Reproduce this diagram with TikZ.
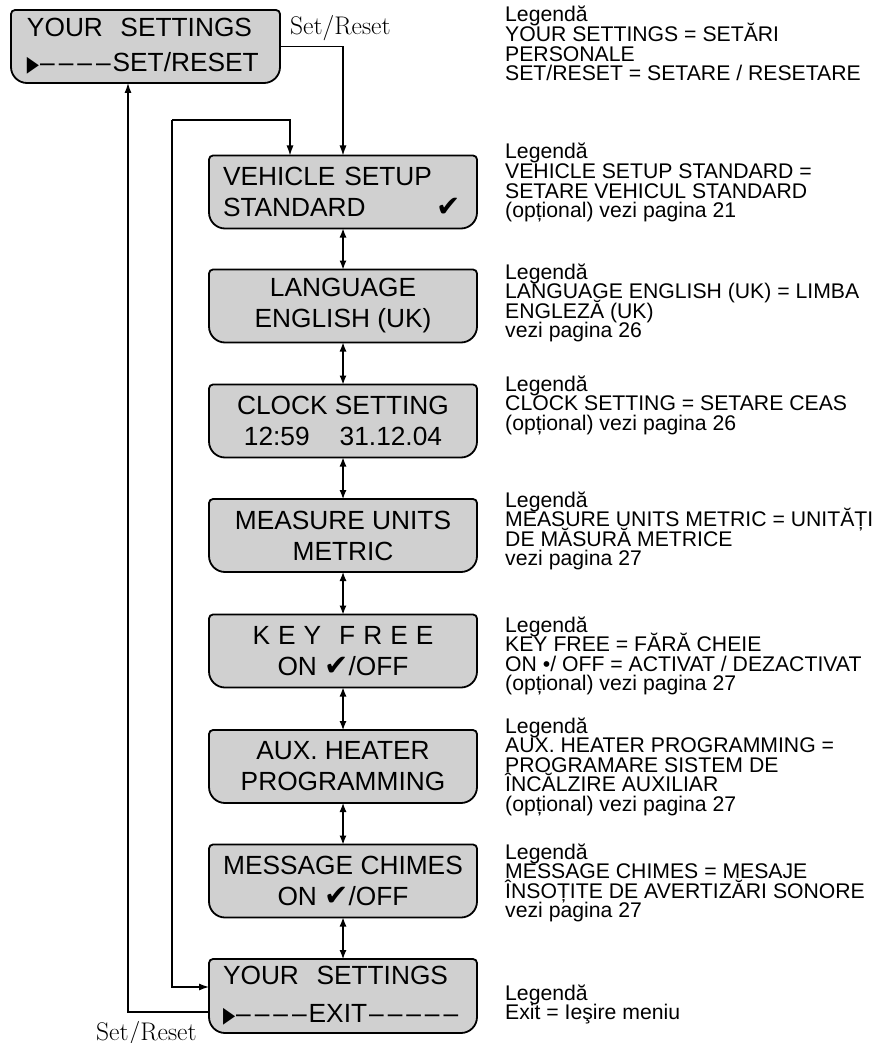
\documentclass[tikz,border=0pt]{standalone}
\usepackage{fontspec}
\usepackage{graphicx}
\usetikzlibrary{arrows.meta,backgrounds,calc}
\newfontfamily\lcdfont{Liberation Sans}
\newfontfamily\legfont{Liberation Sans}
\newfontfamily\symfont{DejaVu Sans}
\definecolor{lcdgray}{HTML}{D0D0D0}
\newcommand\chk{{\symfont\fontsize{29}{29}\selectfont ✔}}
\newcommand\tri{{\symfont\fontsize{22}{22}\selectfont\scalebox{0.72}[1]{▶}}}
\newcommand\dsh{–\kern4pt}
\newcommand\lcdoutline[1]{%
  \draw[lcdedge] ([xshift=4pt]#1.north west) -- ([xshift=-4pt]#1.north east)
   .. controls ([xshift=-1.8pt]#1.north east) and ([yshift=-1.8pt]#1.north east) .. ([yshift=-4pt]#1.north east)
   -- ([yshift=16pt]#1.south east)
   .. controls ([yshift=7.2pt]#1.south east) and ([xshift=-7.2pt]#1.south east) .. ([xshift=-16pt]#1.south east)
   -- ([xshift=16pt]#1.south west)
   .. controls ([xshift=7.2pt]#1.south west) and ([yshift=7.2pt]#1.south west) .. ([yshift=16pt]#1.south west)
   -- ([yshift=-4pt]#1.north west)
   .. controls ([yshift=-1.8pt]#1.north west) and ([xshift=1.8pt]#1.north west) .. cycle;}
\newcommand\legtext[1]{\parbox[t]{420pt}{\lineskiplimit=-100pt\lineskip=0pt\raggedright #1}}
\lineskiplimit=-100pt
\begin{document}
\begin{tikzpicture}[x=1pt,y=-1pt,
  lcdedge/.style={draw=black, fill=lcdgray, line width=1.8pt},
  lcd/.style={rectangle, inner sep=0pt, outer sep=0pt, minimum width=268pt,
    minimum height=73pt, align=center, font=\lcdfont\fontsize{26.3}{31}\selectfont},
  lcdl/.style={lcd, align=left, text width=240pt},
  arr/.style={-{Latex[length=10pt,width=7pt]}, line width=1.2pt},
  darr/.style={{Latex[length=9pt,width=7pt]}-{Latex[length=9pt,width=7pt]}, line width=1.2pt},
  leg/.style={anchor=base west, inner sep=0pt, font=\legfont\fontsize{21.2}{19.6}\selectfont},
  setlbl/.style={anchor=base west, inner sep=0pt, font=\fontsize{25.5}{26}\selectfont}]
\useasboundingbox (0,0) rectangle (873,1043);

% display boxes
\node[lcdl, minimum width=269pt, text width=237pt, font=\lcdfont\fontsize{26.3}{35}\selectfont]
  (b0) at (145.5,46.5) {YOUR\ \ SETTINGS\\\tri\kern1pt\dsh\dsh\dsh–\kern2pt SET/RESET};
\node[lcdl] (b1) at (343,192) {VEHICLE SETUP\\STANDARD\hfill\chk\kern2pt};
\node[lcd] (b2) at (343,306) {LANGUAGE\\ENGLISH (UK)};
\node[lcd] (b3) at (343,421) {CLOCK SETTING\\12:59\hspace{30pt}31.12.04};
\node[lcd] (b4) at (343,535.5) {MEASURE UNITS\\METRIC};
\node[lcd] (b5) at (343,651) {K\kern8pt E\kern8pt Y\kern18pt F\kern8pt R\kern8pt E\kern8pt E\\ON \chk/OFF};
\node[lcd] (b6) at (343,766.5) {AUX. HEATER\\PROGRAMMING};
\node[lcd] (b7) at (343,881) {MESSAGE CHIMES\\ON \chk/OFF};
\node[lcdl, minimum height=74pt, font=\lcdfont\fontsize{26.3}{34}\selectfont]
  (b8) at (343,996) {YOUR\ \ SETTINGS\\\kern4pt\tri\kern1pt\dsh\dsh\dsh–\kern2pt EXIT\kern2pt\dsh\dsh\dsh\dsh–};

\begin{scope}[on background layer]
  \foreach \b in {b0,b1,b2,b3,b4,b5,b6,b7,b8} {\lcdoutline{\b}}
\end{scope}

% labels
\node[setlbl] (s1) at (290,35) {Set/Reset};
\node[setlbl] (s2) at (96,1040) {Set/Reset};

% connectors
\coordinate (c1) at (172,120);
\draw[arr] (b0.east) -| (b1.north);
\draw[arr] (c1) -| ([xshift=-53pt]b1.north);
\draw[arr] (c1) |- ([yshift=9pt]b8.west);
\draw[arr] ([yshift=-16pt]b8.west) -| ([xshift=-17.5pt]b0.south);
\draw[darr] (b1.south) -- (b2.north);
\draw[darr] (b2.south) -- (b3.north);
\draw[darr] (b3.south) -- (b4.north);
\draw[darr] (b4.south) -- (b5.north);
\draw[darr] (b5.south) -- (b6.north);
\draw[darr] (b6.south) -- (b7.north);
\draw[darr] (b7.south) -- (b8.north);

% legend
\node[leg] (l0) at (505,22) {\legtext{Legendă\\YOUR SETTINGS = SETĂRI\\PERSONALE\\SET/RESET = SETARE / RESETARE}};
\node[leg] (l1) at (505,159) {\legtext{Legendă\\VEHICLE SETUP STANDARD =\\SETARE VEHICUL STANDARD\\(opțional) vezi pagina 21}};
\node[leg] (l2) at (505,279) {\legtext{Legendă\\LANGUAGE ENGLISH (UK) = LIMBA\\ENGLEZĂ (UK)\\vezi pagina 26}};
\node[leg] (l3) at (505,391) {\legtext{Legendă\\CLOCK SETTING = SETARE CEAS\\(opțional) vezi pagina 26}};
\node[leg] (l4) at (505,507) {\legtext{Legendă\\MEASURE UNITS METRIC = UNITĂȚI\\DE MĂSURĂ METRICE\\vezi pagina 27}};
\node[leg] (l5) at (505,632) {\legtext{Legendă\\KEY FREE = FĂRĂ CHEIE\\ON •/ OFF = ACTIVAT / DEZACTIVAT\\(opțional) vezi pagina 27}};
\node[leg] (l6) at (505,733) {\legtext{Legendă\\AUX. HEATER PROGRAMMING =\\PROGRAMARE SISTEM DE\\ÎNCĂLZIRE AUXILIAR\\(opțional) vezi pagina 27}};
\node[leg] (l7) at (505,859) {\legtext{Legendă\\MESSAGE CHIMES = MESAJE\\ÎNSOȚITE DE AVERTIZĂRI SONORE\\vezi pagina 27}};
\node[leg] (l8) at (505,1000) {\legtext{Legendă\\Exit = Ieşire meniu}};
\end{tikzpicture}
\end{document}
